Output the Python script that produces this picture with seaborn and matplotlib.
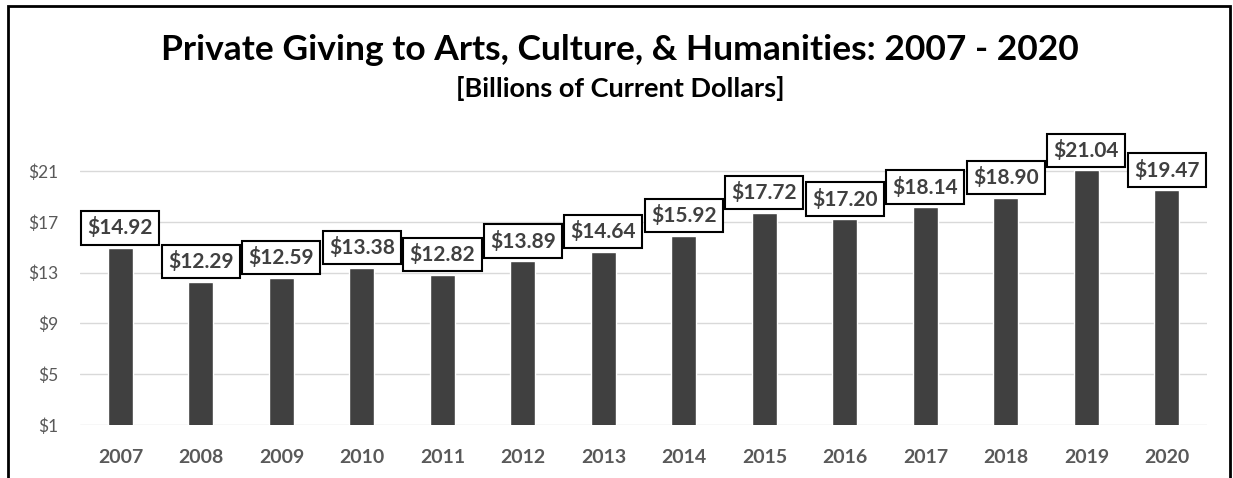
import numpy as np
import pandas as pd
import matplotlib
matplotlib.use('Agg')
import matplotlib.pyplot as plt
import seaborn as sns
from matplotlib.patches import Rectangle

years = ['2007', '2008', '2009', '2010', '2011', '2012', '2013',
         '2014', '2015', '2016', '2017', '2018', '2019', '2020']
giving = [14.92, 12.29, 12.59, 13.38, 12.82, 13.89, 14.64,
          15.92, 17.72, 17.20, 18.14, 18.90, 21.04, 19.47]
yticks = [1, 5, 9, 13, 17, 21]

df = pd.DataFrame({'year': years, 'giving': giving})

sns.set_style('white')
plt.rcParams['font.family'] = ['Lato', 'DejaVu Sans']

fig = plt.figure(figsize=(12.33, 4.78), dpi=100)
# axes top sits a bit above $21 so the tallest bar is not clipped
ax = fig.add_axes([0.065, 53 / 478, 0.914, 260.35 / 478])

sns.barplot(data=df, x='year', y='giving', color='#404040', saturation=1,
            width=0.31, ax=ax)

ax.set_ylim(1, 21.5)
ax.set_xlim(-0.5, len(years) - 0.5)
ax.set_yticks(yticks)
ax.set_yticklabels([f'${v}' for v in yticks], color='#595959', fontsize=12.5)
ax.yaxis.grid(True, color='#d9d9d9', linewidth=1)
ax.set_axisbelow(True)
ax.tick_params(axis='both', length=0)
ax.tick_params(axis='y', pad=16)
ax.tick_params(axis='x', pad=17)
for lbl in ax.get_xticklabels():
    lbl.set_fontweight('bold')
    lbl.set_color('#595959')
    lbl.set_fontsize(14)
ax.set_xlabel('')
ax.set_ylabel('')
for s in ax.spines.values():
    s.set_visible(False)

for i, v in enumerate(giving):
    ax.annotate(f'${v:.2f}', xy=(i, v), xytext=(0, 7), textcoords='offset points',
                ha='center', va='bottom', fontsize=15, fontweight='bold',
                color='#404040', annotation_clip=False,
                bbox=dict(boxstyle='square,pad=0.3', fc='white', ec='black', lw=1.5))

fig.text(0.503, 1 - 60 / 478, 'Private Giving to Arts, Culture, & Humanities: 2007 - 2020',
         ha='center', va='baseline', fontsize=25.5, fontweight='bold', color='black')
fig.text(0.503, 1 - 97 / 478, '[Billions of Current Dollars]',
         ha='center', va='baseline', fontsize=19.5, fontweight='bold', color='black')

fig.patches.append(Rectangle((8 / 1233, -0.02), 1222 / 1233, 1.02 - 6 / 478,
                             transform=fig.transFigure, fill=False,
                             edgecolor='black', linewidth=2))

fig.savefig('out.png', dpi=100)
